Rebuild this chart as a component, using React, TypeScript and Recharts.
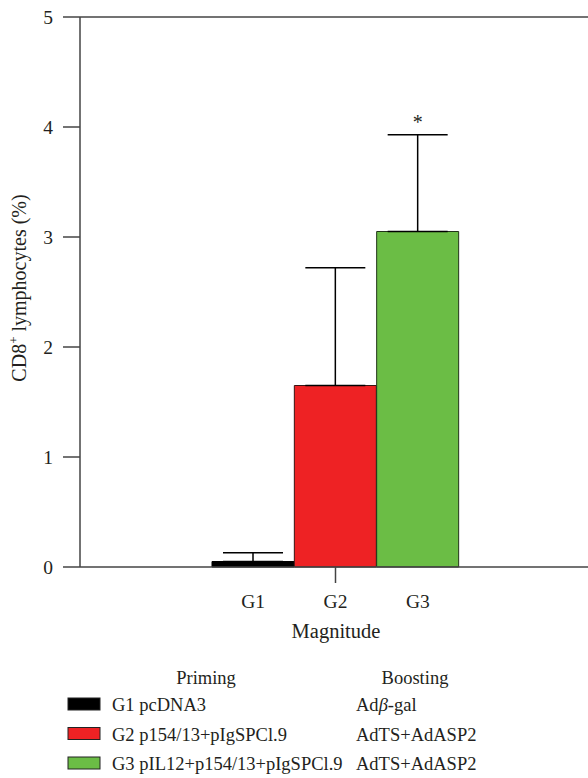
import React from 'react';
import {
  BarChart,
  Bar,
  XAxis,
  YAxis,
  ErrorBar,
  Cell,
  ReferenceLine,
  ReferenceDot,
  Legend,
  Label,
} from 'recharts';

const groups = ['G1', 'G2', 'G3'];
const means = [0.05, 1.65, 3.05];
const errors = [0.08, 1.07, 0.88];
const colors = ['#000000', '#EE2224', '#6BBD45'];
const edgeColors = ['#000000', '#3a1414', '#22331a'];
const yTicks = [0, 1, 2, 3, 4, 5];
const primingLabels = ['G1 pcDNA3', 'G2 p154/13+pIgSPCl.9', 'G3 pIL12+p154/13+pIgSPCl.9'];
const boostingLabels = ['Adβ-gal', 'AdTS+AdASP2', 'AdTS+AdASP2'];
const significant = [false, false, true];

const data = groups.map((g, i) => ({
  group: g,
  value: means[i],
  err: [0, errors[i]],
}));

const FONT = '"Liberation Serif", "Times New Roman", serif';
const TEXT = '#231f20';
const AXIS = '#444';
const X_TICK_SIZE = 16;
const X_TICK_MARGIN = 8;

const XTick = (props: any) => {
  const { x, y, payload, index } = props;
  const axisY = y - X_TICK_SIZE - X_TICK_MARGIN;
  return (
    <g>
      {index === 1 && (
        <line x1={x} x2={x} y1={axisY} y2={axisY + X_TICK_SIZE} stroke={AXIS} strokeWidth={1.5} />
      )}
      <text x={x} y={y} dy={17} textAnchor="middle" fontSize={19.5} fill={TEXT} fontFamily={FONT}>
        {payload.value}
      </text>
    </g>
  );
};

const renderBoost = (s: string) => {
  const idx = s.indexOf('β');
  if (idx < 0) return s;
  return (
    <>
      {s.slice(0, idx)}
      <tspan fontStyle="italic">β</tspan>
      {s.slice(idx + 1)}
    </>
  );
};

const LegendContent = () => (
  <svg width={588} height={118} style={{ display: 'block' }}>
    <text x={206} y={24} textAnchor="middle" fontSize={18.5} fill={TEXT} fontFamily={FONT}>
      Priming
    </text>
    <text x={415} y={24} textAnchor="middle" fontSize={18.5} fill={TEXT} fontFamily={FONT}>
      Boosting
    </text>
    {primingLabels.map((p, i) => {
      const base = 51 + i * 29.5;
      return (
        <g key={p}>
          <rect x={68} y={base - 13} width={32} height={12} fill={colors[i]} stroke="#222" strokeWidth={1} />
          <text x={112} y={base} fontSize={18.5} fill={TEXT} fontFamily={FONT}>
            {p}
          </text>
          <text x={356} y={base} fontSize={18.5} fill={TEXT} fontFamily={FONT}>
            {renderBoost(boostingLabels[i])}
          </text>
        </g>
      );
    })}
  </svg>
);

export default function App() {
  const starIdx = significant.indexOf(true);
  return (
    <div style={{ position: 'absolute', left: 0, top: 0, width: 588, height: 778, fontFamily: FONT, background: '#fff' }}>
      <BarChart
        width={588}
        height={778}
        data={data}
        margin={{ top: 17, right: 0, left: 0, bottom: 131 }}
        barCategoryGap={0}
      >
        <XAxis
          dataKey="group"
          height={80}
          padding={{ left: 132, right: 129 }}
          tickLine={false}
          tickSize={X_TICK_SIZE}
          tickMargin={X_TICK_MARGIN}
          axisLine={{ stroke: AXIS, strokeWidth: 1.5 }}
          tick={<XTick />}
          interval={0}
        >
          <Label
            content={(props: any) => {
              const vb = props.viewBox;
              return (
                <text x={vb.x + vb.width / 2 + 2} y={638} textAnchor="middle" fontSize={20.5} fill={TEXT} fontFamily={FONT}>
                  Magnitude
                </text>
              );
            }}
          />
        </XAxis>
        <YAxis
          width={80}
          domain={[0, 5]}
          ticks={yTicks}
          interval={0}
          tickSize={17}
          tickMargin={10}
          tickLine={{ stroke: AXIS, strokeWidth: 1.5 }}
          axisLine={{ stroke: AXIS, strokeWidth: 1.5 }}
          tick={{ fontSize: 19.5, fill: TEXT, fontFamily: FONT }}
        >
          <Label
            content={() => (
              <text
                x={26}
                y={288}
                transform="rotate(-90 26 288)"
                textAnchor="middle"
                fontSize={20}
                fill={TEXT}
                fontFamily={FONT}
              >
                CD8
                <tspan fontSize={13} dy={-8}>+</tspan>
                <tspan dy={8}> lymphocytes (%)</tspan>
              </text>
            )}
          />
        </YAxis>
        <ReferenceLine y={5} stroke={AXIS} strokeWidth={1.5} />
        <Bar dataKey="value" isAnimationActive={false} strokeWidth={1}>
          {data.map((d, i) => (
            <Cell key={d.group} fill={colors[i]} stroke={edgeColors[i]} />
          ))}
          <ErrorBar dataKey="err" width={30} stroke="#000" strokeWidth={1.5} direction="y" isAnimationActive={false} />
        </Bar>
        {starIdx >= 0 && (
          <ReferenceDot
            x={groups[starIdx]}
            y={means[starIdx] + errors[starIdx]}
            r={2}
            fill="none"
            stroke="none"
            label={(props: any) => {
              const vb = props.viewBox;
              const cx = vb.x + vb.width / 2;
              const cy = vb.y + vb.height / 2;
              return (
                <text x={cx} y={cy - 6} textAnchor="middle" fontSize={20} fill={TEXT} fontFamily={FONT}>
                  *
                </text>
              );
            }}
          />
        )}
        <Legend
          layout="horizontal"
          verticalAlign="middle"
          align="center"
          content={<LegendContent />}
          wrapperStyle={{ position: 'absolute', left: 0, top: 660, width: 588, height: 118 }}
        />
      </BarChart>
    </div>
  );
}
